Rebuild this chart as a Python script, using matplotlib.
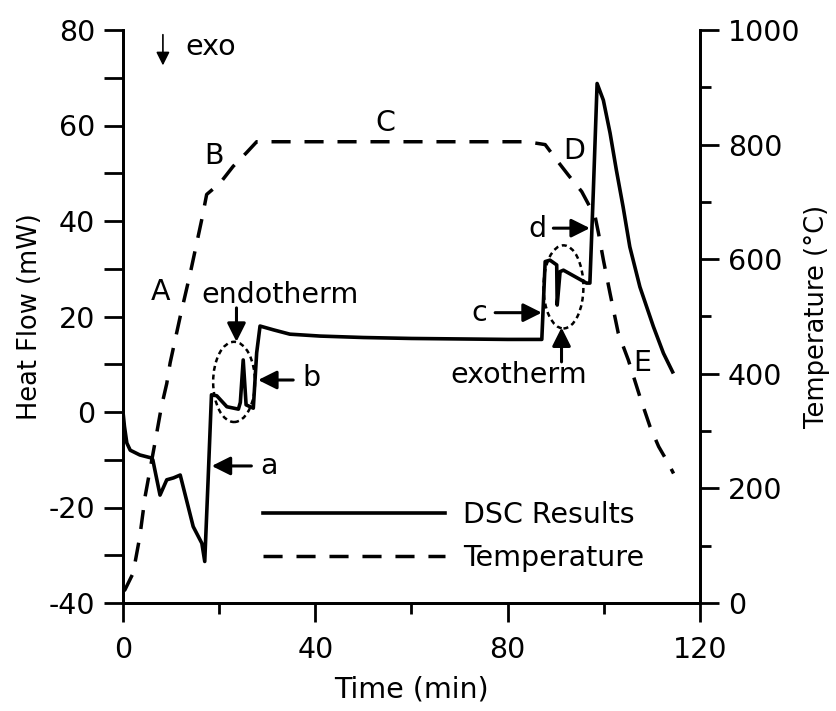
import matplotlib
matplotlib.use('Agg')
from matplotlib import pyplot as plt
from matplotlib.patches import Ellipse
import numpy as np

# DSC heat flow (left axis)
time_dsc = [0, 0.3, 0.8, 1.5, 3.5, 5.8, 6.2, 6.6, 7.7, 9.1, 10.5, 11.9, 13.2, 14.6, 16.4, 17.0,
            17.7, 18.4, 19.5, 21.6, 24.0, 24.4, 25.0, 25.6, 27.1, 27.8, 28.5, 31.3, 34.7, 41,
            50, 60, 70, 80, 87.1, 87.8, 88.8, 90.2, 90.3, 90.9, 91.6, 96.4, 97.1, 97.8, 98.6,
            99.9, 101.3, 102.6, 104.0, 105.4, 107.5, 110.3, 112.4, 114.3]
heat_flow = [0, -3, -6.5, -8, -9, -9.6, -10, -12, -17.4, -14.2, -13.8, -13.2, -18.4, -24, -27.5, -31.3,
             -14.2, 3.6, 3.4, 1.1, 0.6, 2, 10.9, 1.5, 0.8, 12.4, 18, 17.2, 16.3, 15.9,
             15.6, 15.4, 15.3, 15.2, 15.2, 31.5, 31.8, 30.8, 22.4, 29.4, 29.7, 27, 27, 45.8, 68.8,
             65.3, 58.4, 50.7, 43, 34.6, 26.2, 17.9, 12.3, 8.4]

# furnace temperature (right axis)
time_temp = [0, 0.4, 2.1, 3.5, 4.6, 6.7, 8.0, 9.1, 9.8, 11.9, 14.0, 16.4, 17.4, 20.2, 22.9, 25.7,
             27.8, 40, 60, 80, 84, 87.8, 90.2, 92.6, 95.4, 98.2, 98.9, 99.9, 101.3, 103.0, 105.1,
             107.5, 109.6, 111.4, 113.4, 114.5]
temperature = [20, 23, 52, 116, 186, 282, 343, 383, 419, 500, 576, 670, 713, 733, 762, 786,
               805, 805, 805, 805, 805, 800, 773, 747, 718, 674, 645, 599, 540, 471, 424,
               360, 308, 273, 244, 226]

plt.rcParams['font.family'] = ['DejaVu Sans']
plt.rcParams['axes.unicode_minus'] = False
FS = 20.5
FS_Y = 18.5

fig = plt.figure(figsize=(8.36, 7.11), dpi=100)
ax = fig.add_axes([123 / 836, 1 - 603 / 711, 577 / 836, 573 / 711])
ax2 = ax.twinx()

l1, = ax.plot(time_dsc, heat_flow, color='black', lw=2.6, label='DSC Results', zorder=3)
l2, = ax2.plot(time_temp, temperature, color='black', lw=2.5, dashes=(5.5, 4), label='Temperature')

ax.set_xlim(0, 120)
ax.set_ylim(-40, 80)
ax2.set_ylim(0, 1000)
ax.set_xticks([0, 40, 80, 120])
ax.set_xticks([20, 60, 100], minor=True)
ax.set_yticks(np.arange(-40, 81, 20))
ax.set_yticks(np.arange(-30, 80, 20), minor=True)
ax2.set_yticks(np.arange(0, 1001, 200))
ax2.set_yticks(np.arange(100, 1000, 200), minor=True)

for a in (ax, ax2):
    a.spines['top'].set_visible(False)
    for s in a.spines.values():
        s.set_linewidth(2)
    a.tick_params(which='major', direction='out', length=14, width=2, labelsize=FS, pad=6)
    a.tick_params(which='minor', direction='out', length=8, width=2)
ax.tick_params(axis='y', which='minor', length=14)
ax.tick_params(axis='x', which='major', pad=10)

ax.set_xlabel('Time (min)', fontsize=FS, labelpad=8)
ax.set_ylabel('Heat Flow (mW)', fontsize=FS_Y, labelpad=4)
ax2.set_ylabel('Temperature (°C)', fontsize=FS_Y, labelpad=3)

# segment letters
for txt, x, y in [('A', 7.9, 25.1), ('B', 18.9, 53.6), ('C', 54.5, 60.5),
                  ('D', 93.8, 54.7), ('E', 107.9, 10.3)]:
    ax.text(x, y, txt, fontsize=FS, ha='center', va='center')

# exo direction
ax.annotate('', xy=(8.3, 72.0), xytext=(8.3, 79.6),
            arrowprops=dict(arrowstyle='-|>', color='black', lw=1.2, mutation_scale=20))
ax.text(12.9, 76.5, 'exo', fontsize=FS, ha='left', va='center')

big = dict(arrowstyle='-|>', color='black', lw=2.2, mutation_scale=28, shrinkA=0, shrinkB=0)
ax.annotate('', xy=(23.6, 14.7), xytext=(23.6, 21.8), arrowprops=big)
ax.text(16.4, 24.5, 'endotherm', fontsize=FS, ha='left', va='center')
ax.annotate('', xy=(28.1, 6.7), xytext=(35.4, 6.7), arrowprops=big)
ax.text(37.4, 7.1, 'b', fontsize=FS, ha='left', va='center')
ax.annotate('', xy=(18.45, -11.3), xytext=(26.7, -11.3), arrowprops=big)
ax.text(28.5, -11.3, 'a', fontsize=FS, ha='left', va='center')
ax.annotate('', xy=(87.1, 20.8), xytext=(77.4, 20.8), arrowprops=big)
ax.text(75.8, 20.8, 'c', fontsize=FS, ha='right', va='center')
ax.annotate('', xy=(91.2, 17.7), xytext=(91.2, 10.5), arrowprops=big)
ax.text(96.6, 7.7, 'exotherm', fontsize=FS, ha='right', va='center')
ax.annotate('', xy=(97.1, 38.5), xytext=(89.5, 38.5), arrowprops=big)
ax.text(86.2, 38.3, 'd', fontsize=FS, ha='center', va='center')

for cx, cy, w, h in [(23.1, 6.3, 8.7, 16.8), (91.6, 26.2, 8.3, 17.4)]:
    ax.add_patch(Ellipse((cx, cy), w, h, fill=False, ec='black', lw=1.8,
                         linestyle=(0, (2, 1.5)), zorder=4))

ax.legend([l1, l2], ['DSC Results', 'Temperature'], loc='center left',
          bbox_to_anchor=(0.242, 0.116), frameon=False, fontsize=FS,
          handlelength=6.4, handletextpad=0.65, labelspacing=0.55, borderpad=0,
          borderaxespad=0)

fig.savefig('out.png', dpi=100)
